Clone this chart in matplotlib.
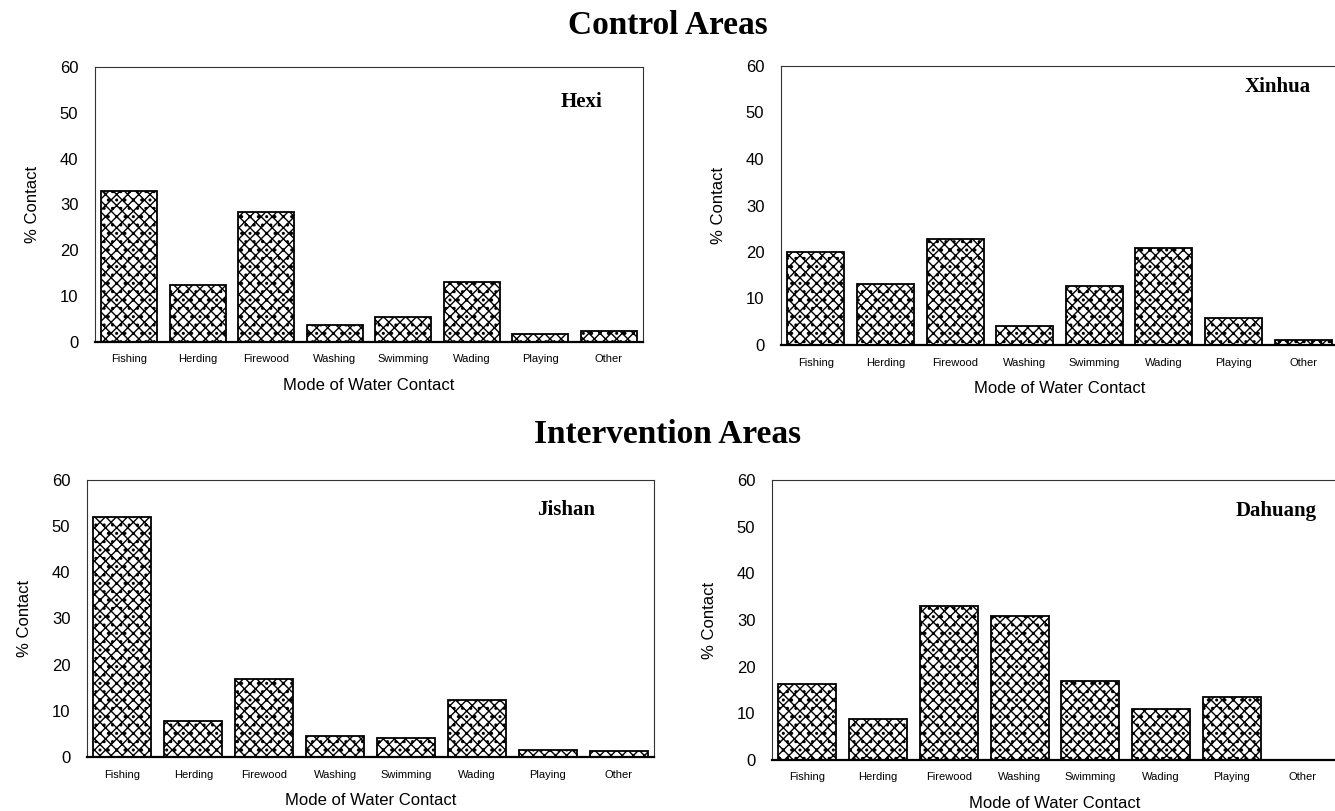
import numpy as np
import matplotlib
matplotlib.use("Agg")
import matplotlib.pyplot as plt

# categories and values
modes = ['Fishing', 'Herding', 'Firewood', 'Washing', 'Swimming', 'Wading', 'Playing', 'Other']
hexi = [33.0, 12.5, 28.4, 3.7, 5.5, 13.2, 1.8, 2.4]
xinhua = [20.0, 13.1, 22.9, 4.1, 12.6, 20.9, 5.7, 1.1]
jishan = [52.0, 7.9, 16.8, 4.6, 4.1, 12.4, 1.6, 1.3]
dahuang = [16.3, 8.7, 33.0, 30.8, 17.0, 10.9, 13.6, 0.0]
yticks = [0, 10, 20, 30, 40, 50, 60]

W, H = 1335, 811
plt.rcParams['font.family'] = ['Liberation Sans', 'DejaVu Sans']
plt.rcParams['hatch.linewidth'] = 1.0

fig = plt.figure(figsize=(W / 100, H / 100), dpi=100)


def px_axes(left, top, right, bottom):
    # axes rectangle given in pixel coordinates of the reference
    return fig.add_axes([left / W, 1 - bottom / H, (right - left) / W, (bottom - top) / H])


def panel(ax, values, name, lx, ly):
    x = np.arange(len(modes))
    ax.bar(x, values, width=0.82, color='white', edgecolor='black',
           linewidth=1.3, hatch='xxx..')
    ax.set_xlim(-0.5, len(modes) - 0.5)
    ax.set_ylim(0, 60)
    ax.set_yticks(yticks)
    ax.set_xticks(x)
    ax.set_xticklabels(modes, fontsize=8)
    ax.tick_params(axis='both', length=0)
    ax.tick_params(axis='y', labelsize=12, pad=12)
    ax.tick_params(axis='x', pad=9)
    ax.set_ylabel('% Contact', fontsize=12, labelpad=14)
    ax.set_xlabel('Mode of Water Contact', fontsize=12, labelpad=10)
    for s in ['left', 'top', 'right']:
        ax.spines[s].set_linewidth(0.8)
        ax.spines[s].set_color('#333333')
    ax.spines['bottom'].set_linewidth(1.6)
    ax.text(lx, ly, name, transform=ax.transAxes, fontsize=15, fontweight='bold',
            family='Liberation Serif', ha='center', va='center')


ax1 = px_axes(95, 67, 643, 342)
panel(ax1, hexi, 'Hexi', 0.887, 0.873)
ax2 = px_axes(781, 66, 1338, 345)
panel(ax2, xinhua, 'Xinhua', 0.892, 0.925)
ax3 = px_axes(87, 480, 654, 757)
panel(ax3, jishan, 'Jishan', 0.845, 0.89)
ax4 = px_axes(772, 480, 1338, 760)
panel(ax4, dahuang, 'Dahuang', 0.89, 0.89)

fig.text(668 / W, 1 - 25 / H, 'Control Areas', ha='center', va='center',
         fontsize=24, fontweight='bold', family='Liberation Serif')
fig.text(668 / W, 1 - 434 / H, 'Intervention Areas', ha='center', va='center',
         fontsize=24, fontweight='bold', family='Liberation Serif')

fig.savefig('out.png', dpi=100)
